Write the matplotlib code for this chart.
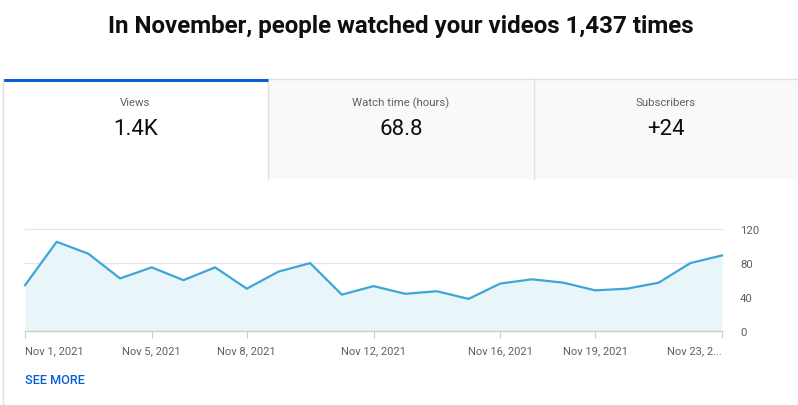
import matplotlib.pyplot as plt
import pandas as pd
from matplotlib.patches import Rectangle

plt.rcParams['font.family'] = ['Roboto', 'DejaVu Sans']

# Daily views, Nov 1 - Nov 23, 2021
views = [54, 105, 91, 62, 75, 60, 75, 50, 70, 80, 43, 53, 44, 47, 38,
         56, 61, 57, 48, 50, 57, 80, 89]
dates = pd.date_range('2021-11-01', periods=len(views), freq='D')

tick_dates = ['2021-11-01', '2021-11-05', '2021-11-08', '2021-11-12',
              '2021-11-16', '2021-11-19', '2021-11-23']
tick_labels = ['Nov 1, 2021', 'Nov 5, 2021', 'Nov 8, 2021', 'Nov 12, 2021',
               'Nov 16, 2021', 'Nov 19, 2021', 'Nov 23, 2...']
y_ticks = [0, 40, 80, 120]

tab_names = ['Views', 'Watch time (hours)', 'Subscribers']
tab_values = ['1.4K', '68.8', '+24']

W, H = 798, 406
fig = plt.figure(figsize=(W / 100, H / 100), dpi=100)

# background axes in pixel coordinates (y downwards)
bg = fig.add_axes([0, 0, 1, 1])
bg.set_xlim(0, W)
bg.set_ylim(H, 0)
bg.axis('off')

bg.text(401, 26, 'In November, people watched your videos 1,437 times',
        ha='center', va='center', fontsize=17.4, fontweight='bold', color='#0f0f0f')

# tabs
tab_edges = [3, 268, 534, 798]
for i in range(3):
    x0, x1 = tab_edges[i], tab_edges[i + 1]
    if i > 0:
        bg.add_patch(Rectangle((x0, 80), x1 - x0, 100, facecolor='#f9f9f9',
                               edgecolor='none'))
        bg.plot([x0, x0], [80, 180], color='#e0e0e0', lw=1)
    cx = (x0 + x1) / 2
    bg.text(cx, 103, tab_names[i], ha='center', va='center', fontsize=8.2,
            color='#606060')
    bg.text(cx, 130, tab_values[i], ha='center', va='center', fontsize=16,
            color='#0d0d0d')

bg.plot([268, 798], [80, 80], color='#e0e0e0', lw=1)
bg.plot([3, 268], [81, 81], color='#065fd4', lw=2.2, solid_capstyle='butt')
bg.plot([3, 3], [80, H], color='#e0e0e0', lw=1)

bg.text(25, 381, 'SEE MORE', ha='left', va='center', fontsize=9.2,
        color='#065fd4', fontweight='medium')

# chart
left, right = 25, 722
top, bottom = 230, 332.3
ax = fig.add_axes([left / W, 1 - bottom / H, (right - left) / W, (bottom - top) / H])
ax.plot(dates, views, color='#3ea6d6', lw=1.6, clip_on=False, zorder=3)
ax.fill_between(dates, views, 0, color='#e8f5f9', lw=0, zorder=1)
ax.set_xlim(dates[0], dates[-1])
ax.set_ylim(0, 120)

for s in ['top', 'left', 'right']:
    ax.spines[s].set_visible(False)
ax.spines['bottom'].set_color('#cccccc')
ax.spines['bottom'].set_linewidth(1)

ax.set_yticks(y_ticks)
ax.set_yticklabels([str(v) for v in y_ticks])
ax.yaxis.tick_right()
ax.tick_params(axis='y', length=0, pad=13, labelsize=8.2, labelcolor='#606060')
for v in y_ticks[1:]:
    ax.axhline(v, color='#e5e5e5', lw=0.9, zorder=0, clip_on=False)

ax.set_xticks(pd.to_datetime(tick_dates))
ax.set_xticklabels(tick_labels)
ax.tick_params(axis='x', length=5, width=0.8, color='#cccccc', pad=5,
               labelsize=8, labelcolor='#606060')
labels = ax.get_xticklabels()
labels[0].set_ha('left')
labels[-1].set_ha('right')

fig.savefig('out.png', dpi=100)
